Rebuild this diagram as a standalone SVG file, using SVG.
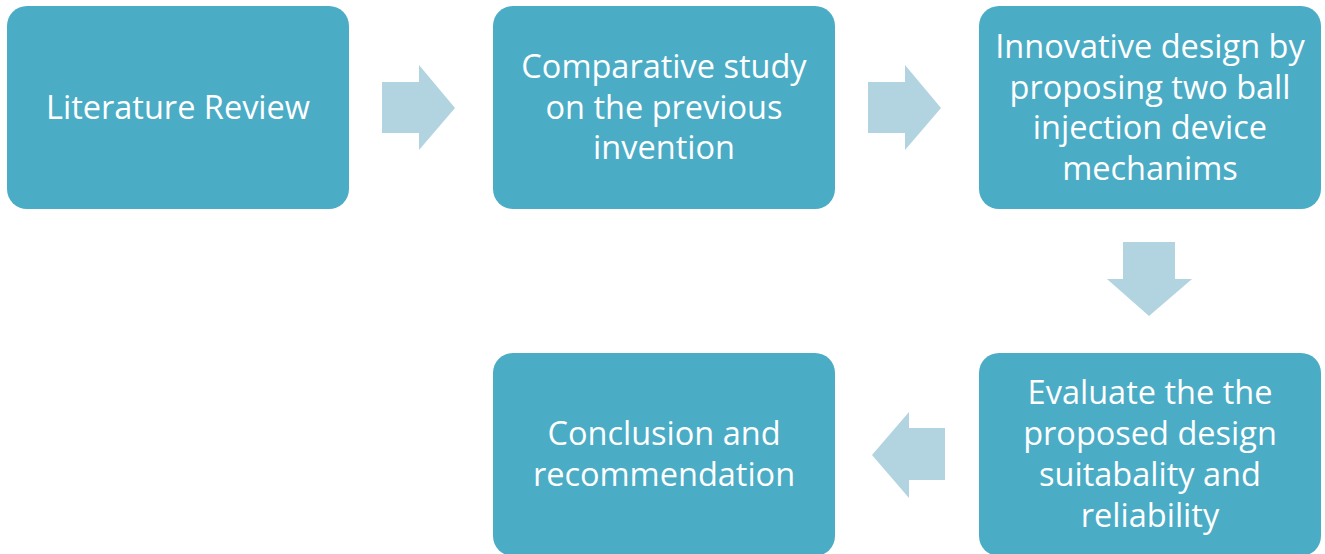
<svg xmlns="http://www.w3.org/2000/svg" width="1325" height="554" viewBox="0 0 1325 554">
<style>
.box{fill:#4BACC6;}
.arr{fill:#B1D4E0;}
text{font-family:"Open Sans","Liberation Sans",sans-serif;font-size:32.5px;fill:#FFFFFF;text-anchor:middle;}
</style>
<rect width="1325" height="554" fill="#FFFFFF"/>
<g id="connectors">
<polygon class="arr" points="382,82 419,82 419,65 455,108 419,150 419,133 382,133"/>
<polygon class="arr" points="868,82 905,82 905,65 941,108 905,150 905,133 868,133"/>
<polygon class="arr" points="1123,242 1175,242 1175,279 1192,279 1149,316 1107,279 1123,279"/>
<polygon class="arr" points="945,428 909,428 909,412 872,455 909,498 909,480 945,480"/>
</g>
<g id="n1"><rect class="box" x="7" y="6" width="342" height="203" rx="20"/>
<text x="178" y="119">Literature Review</text></g>
<g id="n2"><rect class="box" x="493" y="6" width="342" height="203" rx="20"/>
<text x="664" y="78">Comparative study</text><text x="664" y="119">on the previous</text><text x="664" y="159">invention</text></g>
<g id="n3"><rect class="box" x="979" y="6" width="342" height="203" rx="20"/>
<text x="1150" y="58">Innovative design by</text><text x="1150" y="99">proposing two ball</text><text x="1150" y="139">injection device</text><text x="1150" y="180">mechanims</text></g>
<g id="n4"><rect class="box" x="493" y="353" width="342" height="203" rx="20"/>
<text x="664" y="445">Conclusion and</text><text x="664" y="486">recommendation</text></g>
<g id="n5"><rect class="box" x="979" y="353" width="342" height="203" rx="20"/>
<text x="1150" y="404">Evaluate the the</text><text x="1150" y="445">proposed design</text><text x="1150" y="486">suitabality and</text><text x="1150" y="527">reliability</text></g>
</svg>
